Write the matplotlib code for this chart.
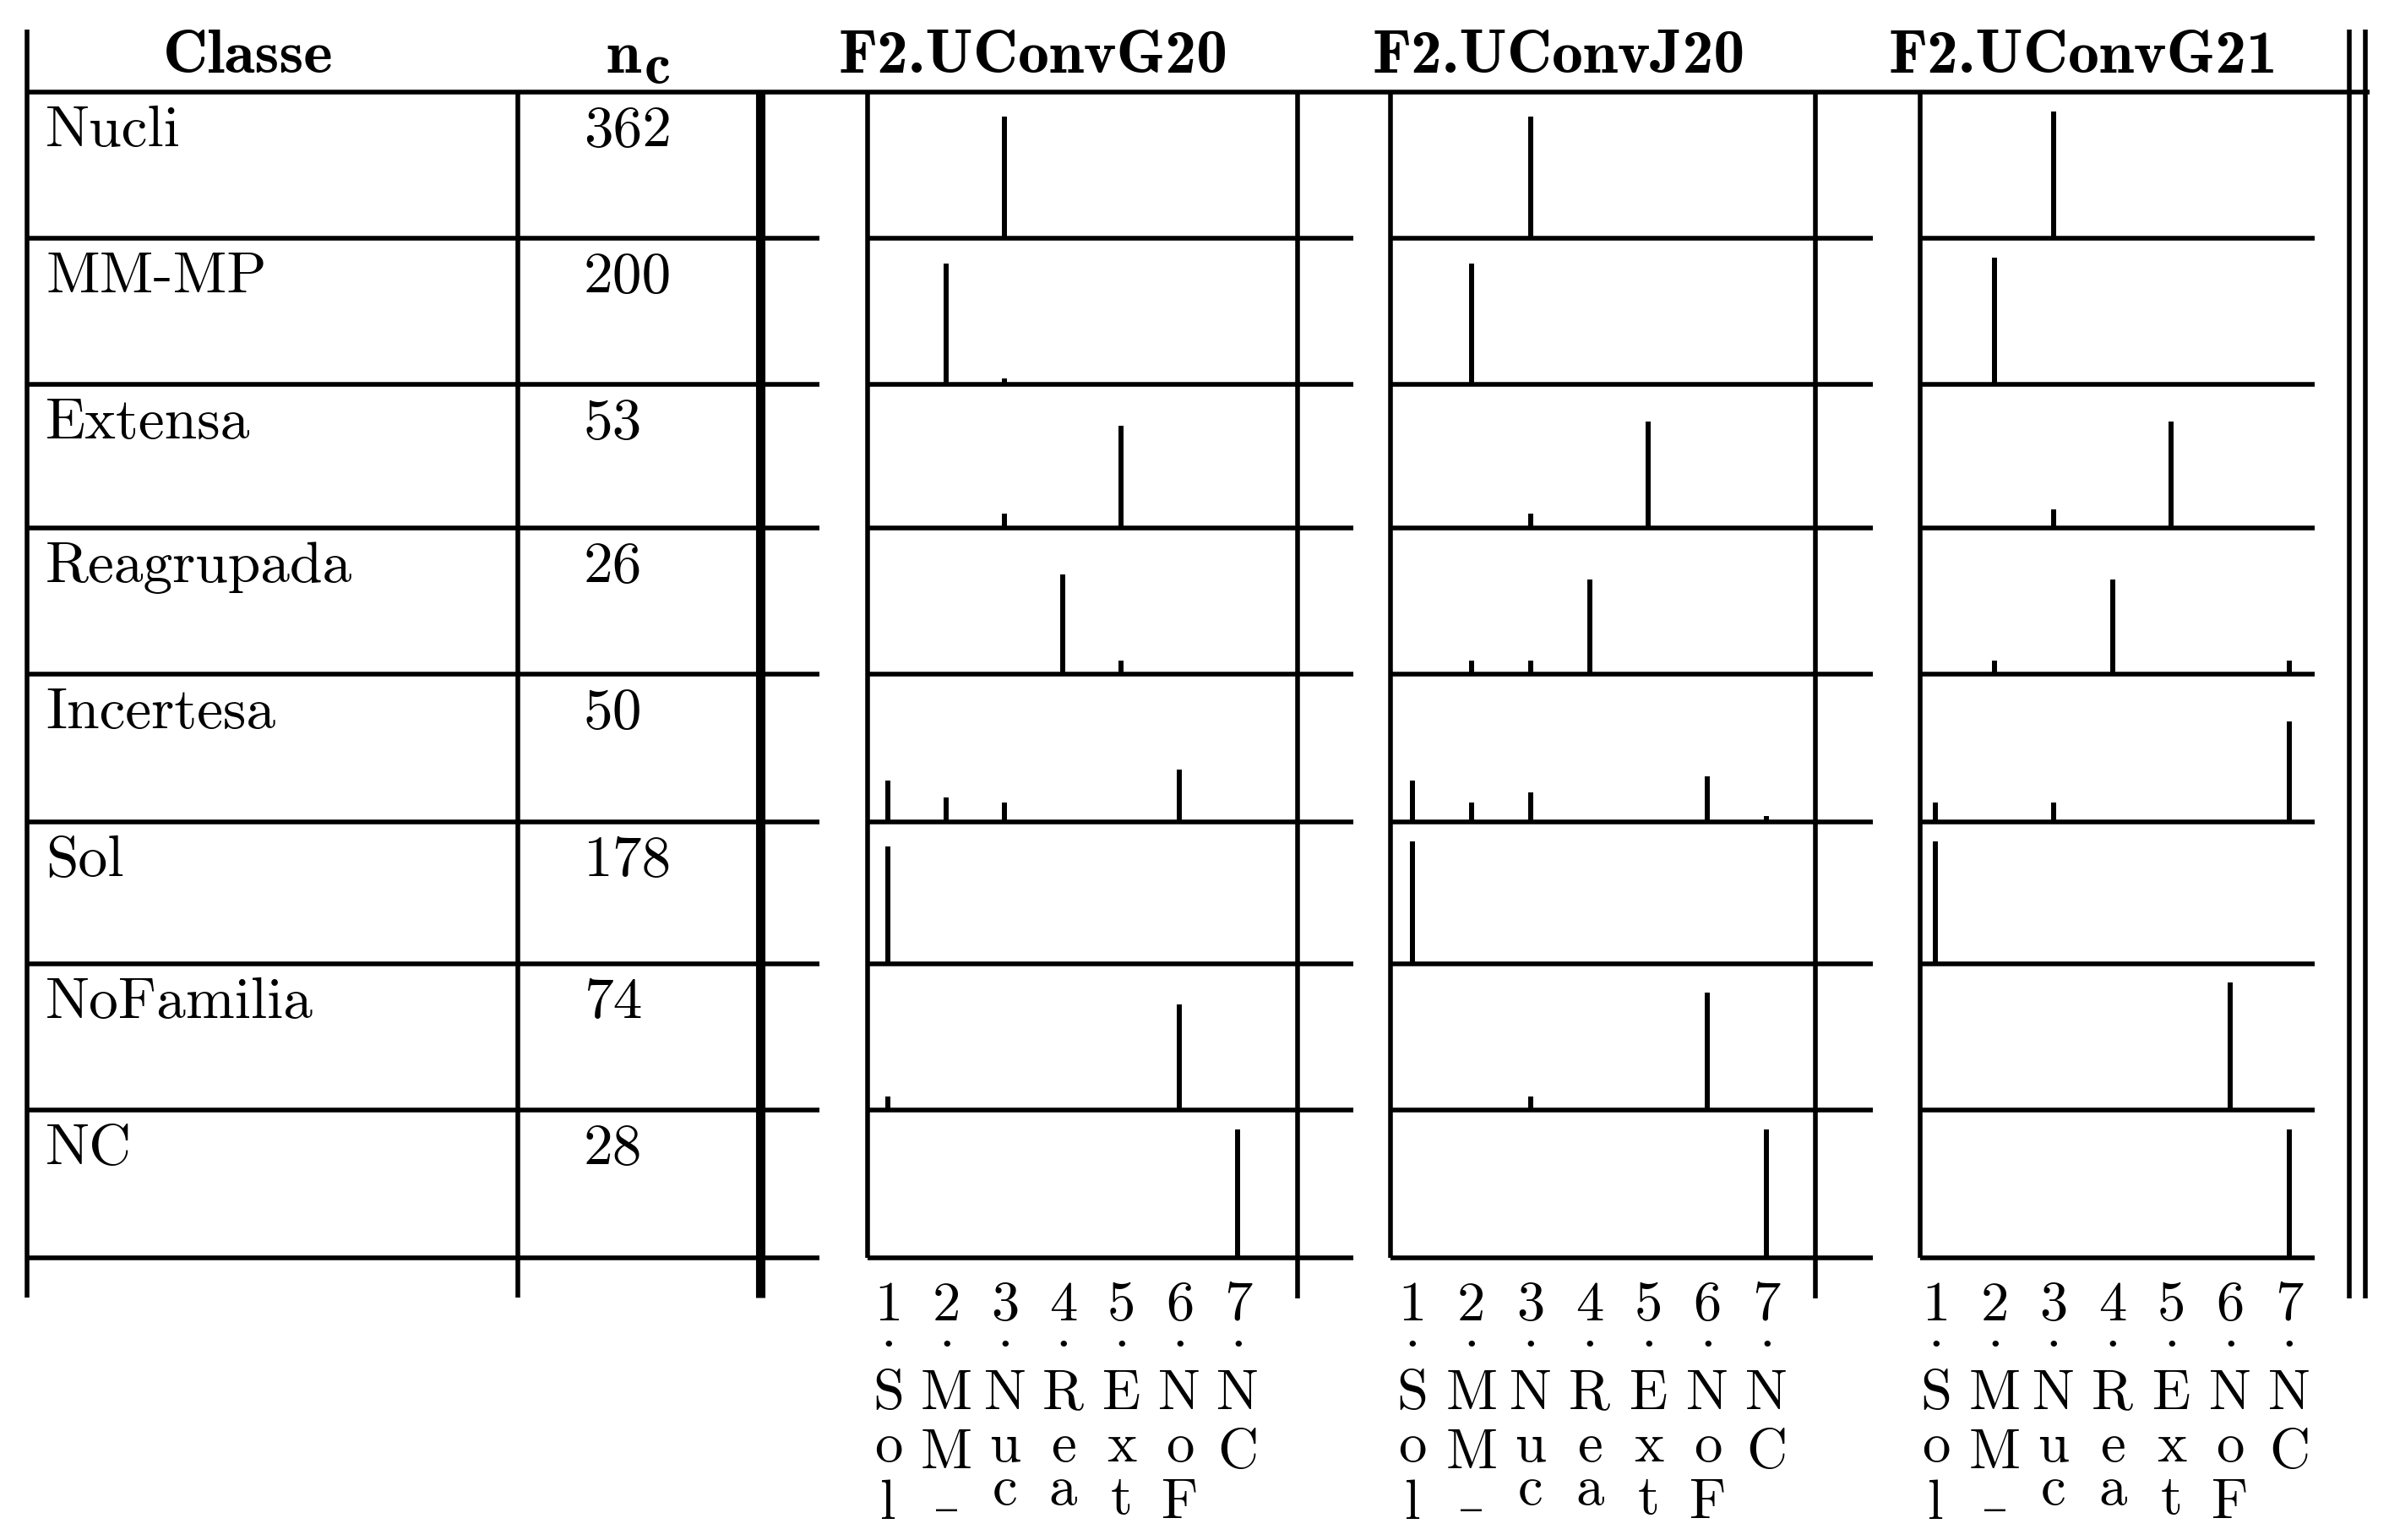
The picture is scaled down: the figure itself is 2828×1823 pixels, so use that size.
import matplotlib
matplotlib.use('Agg')
import matplotlib.pyplot as plt
from matplotlib.textpath import TextPath
from matplotlib.font_manager import FontProperties

# ---------------- data ----------------
classes = ['Nucli', 'MM-MP', 'Extensa', 'Reagrupada', 'Incertesa', 'Sol', 'NoFamilia', 'NC']
n_c = [362, 200, 53, 26, 50, 178, 74, 28]
models = ['F2.UConvG20', 'F2.UConvJ20', 'F2.UConvG21']
tick_labels = ['1.Sol', '2.MM_', '3.Nuc', '4.Rea', '5.Ext', '6.NoF', '7.NC']
tick_pos = [1, 2, 3, 4, 5, 6, 7]

# fraction of each true class assigned to predicted class 1..7
vals_G20 = [
    [0, 0, 0.83, 0, 0, 0, 0],
    [0, 0.83, 0.04, 0, 0, 0, 0],
    [0, 0, 0.10, 0, 0.71, 0, 0],
    [0, 0, 0, 0.68, 0.09, 0, 0],
    [0.28, 0.165, 0.13, 0, 0, 0.354, 0],
    [0.825, 0, 0, 0, 0, 0, 0],
    [0.09, 0, 0, 0, 0, 0.72, 0],
    [0, 0, 0, 0, 0, 0, 0.87],
]
vals_J20 = [
    [0, 0, 0.83, 0, 0, 0, 0],
    [0, 0.83, 0, 0, 0, 0, 0],
    [0, 0, 0.10, 0, 0.745, 0, 0],
    [0, 0.09, 0.09, 0.645, 0, 0, 0],
    [0.28, 0.13, 0.20, 0, 0, 0.31, 0.04],
    [0.86, 0, 0, 0, 0, 0, 0],
    [0, 0, 0.09, 0, 0, 0.80, 0],
    [0, 0, 0, 0, 0, 0, 0.87],
]
vals_G21 = [
    [0, 0, 0.87, 0, 0, 0, 0],
    [0, 0.87, 0, 0, 0, 0, 0],
    [0, 0, 0.13, 0, 0.745, 0, 0],
    [0, 0.09, 0, 0.645, 0, 0, 0.09],
    [0.13, 0, 0.13, 0, 0, 0, 0.68],
    [0.86, 0, 0, 0, 0, 0, 0],
    [0, 0, 0, 0, 0, 0.87, 0],
    [0, 0, 0, 0, 0, 0, 0.87],
]
all_vals = [vals_G20, vals_J20, vals_G21]

# ---------------- layout (in reference "shrunk" units) ----------------
FIG_W, FIG_H = 2828, 1824
W_S = 1568.0
K = FIG_W / W_S
H_S = FIG_H / K

row_lines = [61, 157, 253, 347, 443, 540, 633, 729, 826]
panel_left = [569.5, 912.5, 1260.0]
panel_right = [888.5, 1229.0, 1519.0]
panel_x1 = [583.0, 927.0, 1270.5]
panel_x7 = [812.5, 1159.5, 1502.5]

LW = 4.0      # thin rule (pt)
LW_THICK = 8.0
LW_SPIKE = 4.3
FS = 50
FS_HEAD = 53
FS_TICK = 48

fig = plt.figure(figsize=(FIG_W / 100, FIG_H / 100), dpi=100)
bg = fig.add_axes([0, 0, 1, 1])
bg.set_xlim(0, W_S)
bg.set_ylim(H_S, 0)
bg.axis('off')


def hline(x0, x1, y, lw=LW):
    bg.plot([x0, x1], [y, y], color='black', lw=lw, solid_capstyle='butt')


def vline(x, y0, y1, lw=LW):
    bg.plot([x, x], [y0, y1], color='black', lw=lw, solid_capstyle='butt')


# table rules
hline(18, 1555, row_lines[0])
for y in row_lines[1:]:
    hline(18, 538, y)
vline(18, 20, 852)
vline(340, 61, 852)
vline(499, 61, 852, LW_THICK)
vline(851.5, 61, 853)
vline(1191.5, 61, 853)
vline(1542, 20, 853)
vline(1552.5, 20, 853)

fp_r = FontProperties(family='cmr10')
fp_b = FontProperties(family='cmb10')

# header
bg.text(163, 47.7, 'Classe', fontproperties=fp_b, fontsize=FS_HEAD, ha='center', va='baseline')
bg.text(398, 47.7, 'n', fontproperties=fp_b, fontsize=FS_HEAD, ha='left', va='baseline')
bg.text(423, 55, 'c', fontproperties=fp_b, fontsize=FS_HEAD * 0.95, ha='left', va='baseline')
header_cx = [678, 1023, 1367]
for m, cx in zip(models, header_cx):
    bg.text(cx, 47.7, m, fontproperties=fp_b, fontsize=FS_HEAD, ha='center', va='baseline')

# row labels
for r, (c, n) in enumerate(zip(classes, n_c)):
    yb = row_lines[r] + 35
    bg.text(30, yb, c, fontproperties=fp_r, fontsize=FS, ha='left', va='baseline')
    bg.text(383, yb, str(n), fontproperties=fp_r, fontsize=FS, ha='left', va='baseline')

# spike panels
bottom_axes = []
for p in range(3):
    left, right = panel_left[p], panel_right[p]
    sp = (panel_x7[p] - panel_x1[p]) / 6.0
    xmin = 1 - (panel_x1[p] - left) / sp
    xmax = 7 + (right - panel_x7[p]) / sp
    for r in range(8):
        y0, y1 = row_lines[r], row_lines[r + 1]
        ax = fig.add_axes([left / W_S, 1 - y1 / H_S, (right - left) / W_S, (y1 - y0) / H_S])
        ax.set_xlim(xmin, xmax)
        ax.set_ylim(0, 1)
        v = all_vals[p][r]
        xs = [tick_pos[i] for i in range(7) if v[i] > 0]
        hs = [v[i] for i in range(7) if v[i] > 0]
        ax.vlines(xs, 0, hs, color='black', lw=LW_SPIKE)
        ax.patch.set_visible(False)
        for s in ['top', 'right']:
            ax.spines[s].set_visible(False)
        for s in ['left', 'bottom']:
            ax.spines[s].set_linewidth(LW)
            ax.spines[s].set_color('black')
            ax.spines[s].set_capstyle('butt')
        ax.set_xticks([])
        ax.set_yticks([])
        if r == 7:
            bottom_axes.append(ax)

# stacked tick labels
pt2s = (100 / 72) / K
fp_u = FontProperties(family='DejaVu Serif')


def glyph_ext(ch, prop, size):
    ext = TextPath((0, 0), ch, size=size, prop=prop).get_extents()
    return ext.y0 * pt2s, ext.y1 * pt2s


row_rule = [('center', 854.5), ('center', 882), ('center', 912), ('center', 951), ('top', 971)]
inv = bg.transData.inverted()
for ax in bottom_axes:
    for pos, lab in zip(tick_pos, tick_labels):
        xs = inv.transform(ax.transData.transform((pos, 0)))[0]
        for j, ch in enumerate(lab):
            if ch == '_':
                prop, size = fp_u, FS_TICK * 0.75
                y0, y1 = glyph_ext(ch, prop, size)
                yb = 992 + y0
            else:
                prop, size = fp_r, FS_TICK
                y0, y1 = glyph_ext(ch, prop, size)
                mode, target = row_rule[j]
                if mode == 'center':
                    yb = target + (y0 + y1) / 2
                else:
                    yb = target + y1
            bg.text(xs, yb, ch, fontproperties=prop, fontsize=size, ha='center', va='baseline')

fig.savefig('out.png', dpi=100, facecolor='white')
